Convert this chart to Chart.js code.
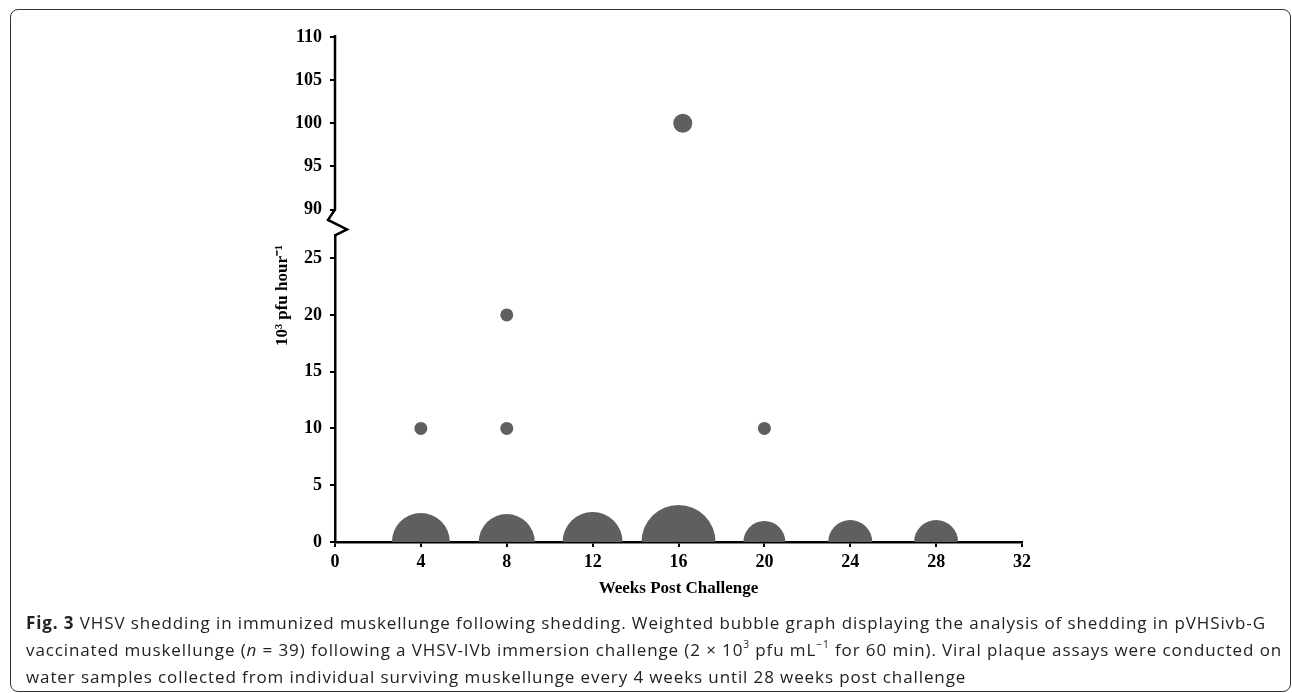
<!DOCTYPE html>
<html>
<head>
<title>VHSV shedding bubble graph</title>
<script src="https://cdn.jsdelivr.net/npm/chart.js"></script>
<style>
  body { margin: 0; background: #fff; }
  #frame {
    position: absolute; left: 10px; top: 9px; width: 1281px; height: 683px;
    box-sizing: border-box; border: 1.5px solid #333; border-radius: 8px;
  }
  #chart { position: absolute; left: 0; top: 0; }
  #caption {
    position: absolute; left: 26px; top: 609px;
    font-family: "Open Sans", sans-serif; font-size: 17px; line-height: 27px;
    color: #222; white-space: nowrap;
  }
  #caption .ln { width: max-content; }
  #caption sup { font-size: 0.6em; line-height: 0; vertical-align: 0.75em; }
</style>
</head>
<body>
<div id="frame"></div>
<canvas id="chart" width="1292" height="610"></canvas>
<div id="caption">
  <div class="ln" id="ln1"><b>Fig. 3</b> VHSV shedding in immunized muskellunge following shedding. Weighted bubble graph displaying the analysis of shedding in pVHSivb-G</div>
  <div class="ln">vaccinated muskellunge (<i>n</i> = 39) following a VHSV-IVb immersion challenge (2 × 10<sup>3</sup> pfu mL<sup>−1</sup> for 60 min). Viral plaque assays were conducted on</div>
  <div class="ln">water samples collected from individual surviving muskellunge every 4 weeks until 28 weeks post challenge</div>
</div>

<script>
// weeks post challenge, shedding (10^3 pfu/hour) and bubble weight (radius)
const weeks      = [4, 8, 12, 16, 20, 24, 28, 4, 8, 8, 20, 16.2];
const shedding   = [0, 0, 0, 0, 0, 0, 0, 10, 10, 20, 10, 100];
const bubbleSize = [29, 28, 30, 37, 21, 22, 22, 6.5, 6.5, 6.5, 6.5, 9.5];

const xTicks     = [0, 4, 8, 12, 16, 20, 24, 28, 32];
const lowerTicks = [0, 5, 10, 15, 20, 25];
const upperTicks = [90, 95, 100, 105, 110];

const lowerPts = [], upperPts = [];
weeks.forEach((w, i) => {
  const p = { x: w, y: shedding[i], r: bubbleSize[i] };
  (shedding[i] >= upperTicks[0] ? upperPts : lowerPts).push(p);
});

const serif = 'Liberation Serif';
const tickFont = { family: serif, size: 18, weight: 'bold' };
const tickGrid = { drawOnChartArea: false, color: '#000', lineWidth: 2, tickLength: 5 };

// axis line with the break, plus the y title centred on the whole axis
const brokenAxis = {
  id: 'brokenAxis',
  afterDraw(chart) {
    const ctx = chart.ctx, y = chart.scales.y, y2 = chart.scales.y2;
    const x0 = chart.chartArea.left;
    const top = y2.getPixelForValue(upperTicks[upperTicks.length - 1]);
    const b = y2.getPixelForValue(upperTicks[0]);
    const h = y.top - b;
    ctx.save();
    ctx.strokeStyle = '#000';
    ctx.lineWidth = 2.5;
    ctx.beginPath();
    ctx.moveTo(x0, top - 2);
    ctx.lineTo(x0, b);
    ctx.lineTo(x0 - 7, b + h * 0.4);
    ctx.lineTo(x0 + 12, b + h * 0.77);
    ctx.lineTo(x0, y.top);
    ctx.stroke();

    ctx.translate(283, (chart.chartArea.top + chart.chartArea.bottom) / 2 + 6);
    ctx.rotate(-Math.PI / 2);
    ctx.font = 'bold 17px "' + serif + '"';
    ctx.textAlign = 'center';
    ctx.textBaseline = 'middle';
    ctx.fillStyle = '#000';
    ctx.fillText('10³ pfu hour⁻¹', 0, 0);
    ctx.restore();
  }
};

new Chart(document.getElementById('chart'), {
  type: 'bubble',
  data: {
    datasets: [
      { data: lowerPts, yAxisID: 'y', backgroundColor: '#5f5f5f', borderWidth: 0 },
      { data: upperPts, yAxisID: 'y2', backgroundColor: '#5f5f5f', borderWidth: 0 }
    ]
  },
  options: {
    responsive: false,
    animation: false,
    layout: { padding: { left: 0, top: 33, right: 270, bottom: 0 } },
    plugins: { legend: { display: false }, tooltip: { enabled: false } },
    scales: {
      x: {
        type: 'linear', min: 0, max: 32, z: 1,
        afterBuildTicks: s => { s.ticks = xTicks.map(v => ({ value: v })); },
        afterFit: s => { s.height = 68; },
        border: { color: '#000', width: 2.5 },
        grid: tickGrid,
        ticks: { color: '#000', font: tickFont, padding: 5, maxRotation: 0 },
        title: { display: true, text: 'Weeks Post Challenge', color: '#000',
                 font: { family: serif, size: 17, weight: 'bold' }, padding: { top: 0, bottom: 11 } }
      },
      y: {
        type: 'linear', position: 'left', stack: 'v', stackWeight: 309, min: 0, max: 27,
        afterBuildTicks: s => { s.ticks = lowerTicks.map(v => ({ value: v })); },
        afterFit: s => { s.width = 335; },
        border: { color: '#000', width: 2.5 },
        grid: tickGrid,
        ticks: { color: '#000', font: tickFont, padding: 8 }
      },
      y2: {
        type: 'linear', position: 'left', stack: 'v', stackWeight: 200, min: 87, max: 110,
        afterBuildTicks: s => { s.ticks = upperTicks.map(v => ({ value: v })); },
        afterFit: s => { s.width = 335; },
        border: { display: false },
        grid: tickGrid,
        ticks: { color: '#000', font: tickFont, padding: 8 }
      }
    }
  },
  plugins: [brokenAxis]
});

// stretch the caption letter spacing so the first line spans the same width as the figure's
document.fonts.ready.then(() => {
  const ln1 = document.getElementById('ln1');
  const w = ln1.getBoundingClientRect().width;
  const n = ln1.textContent.length - 1;
  document.getElementById('caption').style.letterSpacing = ((1239 - w) / n) + 'px';
});
</script>
</body>
</html>
